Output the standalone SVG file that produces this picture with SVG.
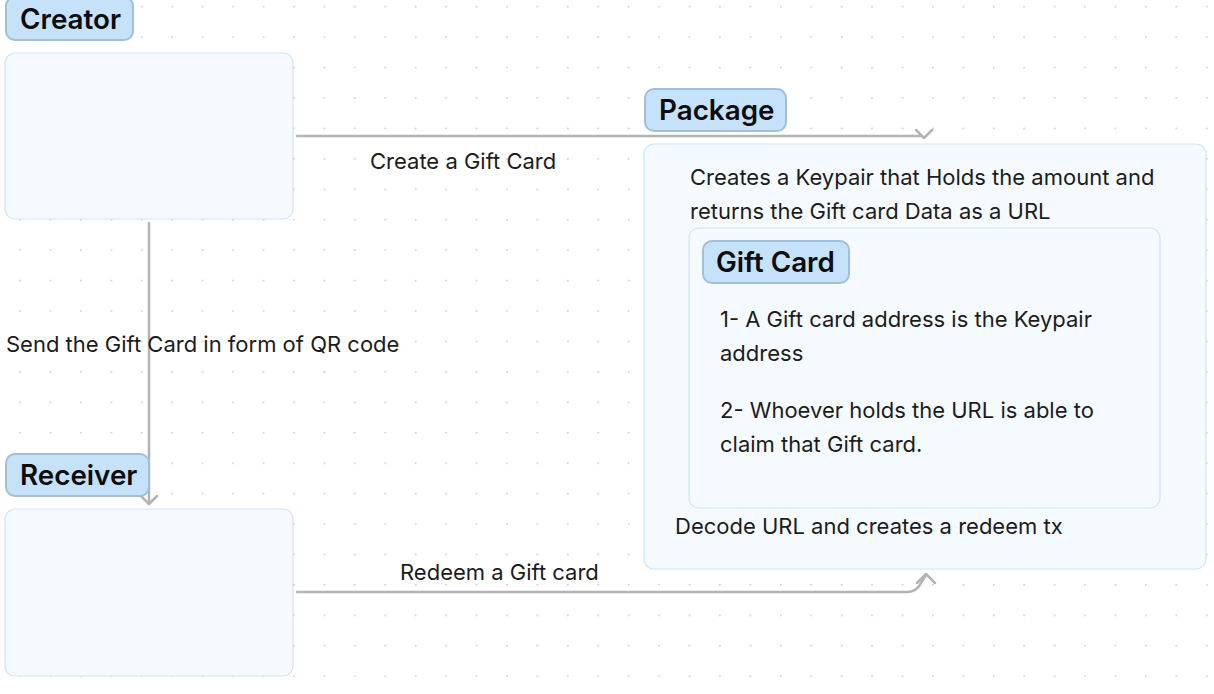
<svg xmlns="http://www.w3.org/2000/svg" width="1214" height="694" viewBox="0 0 1214 694">
<style>
.box{fill:#f5faff;stroke:#cfe5f9;stroke-width:1.2}
.lbl{fill:#c6e2fb;stroke:#a2bfd8;stroke-width:2}
.lt{font-family:Inter,"Noto Sans","Liberation Sans",sans-serif;font-size:27.8px;font-weight:600;fill:#0d0d0d}
.t{font-family:Inter,"Noto Sans","Liberation Sans",sans-serif;font-size:22px;fill:#1c1c1c}
.edge{fill:none;stroke:#b3b3b3;stroke-width:2.5;stroke-linecap:round;stroke-linejoin:round}
</style>
<defs>
<pattern id="dots" x="20" y="6.7" width="30.43" height="30.43" patternUnits="userSpaceOnUse">
<circle cx="0.8" cy="0.8" r="0.9" fill="#c8c8c8"/>
</pattern>
</defs>
<rect width="1214" height="694" fill="#ffffff"/>
<rect x="-10" y="-10" width="1234" height="714" fill="url(#dots)" transform="translate(-0.8,-0.8)"/>
<g id="connectors">
<path class="edge" d="M297 136 H921"/>
<path class="edge" d="M916 130 L924 138 L932 130"/>
<path class="edge" d="M149 223 V504"/>
<path class="edge" d="M141 496 L149 504 L157 496"/>
<path class="edge" d="M297 592 H906 Q917 592 921 583 L926 575"/>
<path class="edge" d="M917 583 L926 574 L935 583"/>
<text class="t" x="370" y="169">Create a Gift Card</text>
<text class="t" x="6" y="352">Send the Gift Card in form of QR code</text>
<text class="t" x="400" y="580">Redeem a Gift card</text>
</g>
<g id="creator">
<rect class="box" x="5" y="53" width="288" height="166" rx="10"/>
<rect class="lbl" x="6" y="-3" width="127" height="43" rx="9"/>
<text class="lt" x="20" y="29">Creator</text>
</g>
<g id="receiver">
<rect class="box" x="5" y="509" width="288" height="167" rx="10"/>
<rect class="lbl" x="6" y="454" width="143" height="42" rx="9"/>
<text class="lt" x="20" y="485">Receiver</text>
</g>
<g id="package">
<rect class="box" x="644" y="144" width="562" height="425" rx="10"/>
<rect class="lbl" x="645" y="89" width="141" height="42" rx="9"/>
<text class="lt" x="659" y="120">Package</text>
<text class="t" x="690" y="185">Creates a Keypair that Holds the amount and</text>
<text class="t" x="690" y="219">returns the Gift card Data as a URL</text>
<text class="t" x="675" y="534">Decode URL and creates a redeem tx</text>
</g>
<g id="giftcard">
<rect class="box" x="689" y="228" width="471" height="280" rx="10"/>
<rect class="lbl" x="703" y="241" width="146" height="42" rx="9"/>
<text class="lt" x="716" y="272">Gift Card</text>
<text class="t" x="720" y="327">1- A Gift card address is the Keypair</text>
<text class="t" x="720" y="361">address</text>
<text class="t" x="720" y="418">2- Whoever holds the URL is able to</text>
<text class="t" x="720" y="452">claim that Gift card.</text>
</g>
</svg>
